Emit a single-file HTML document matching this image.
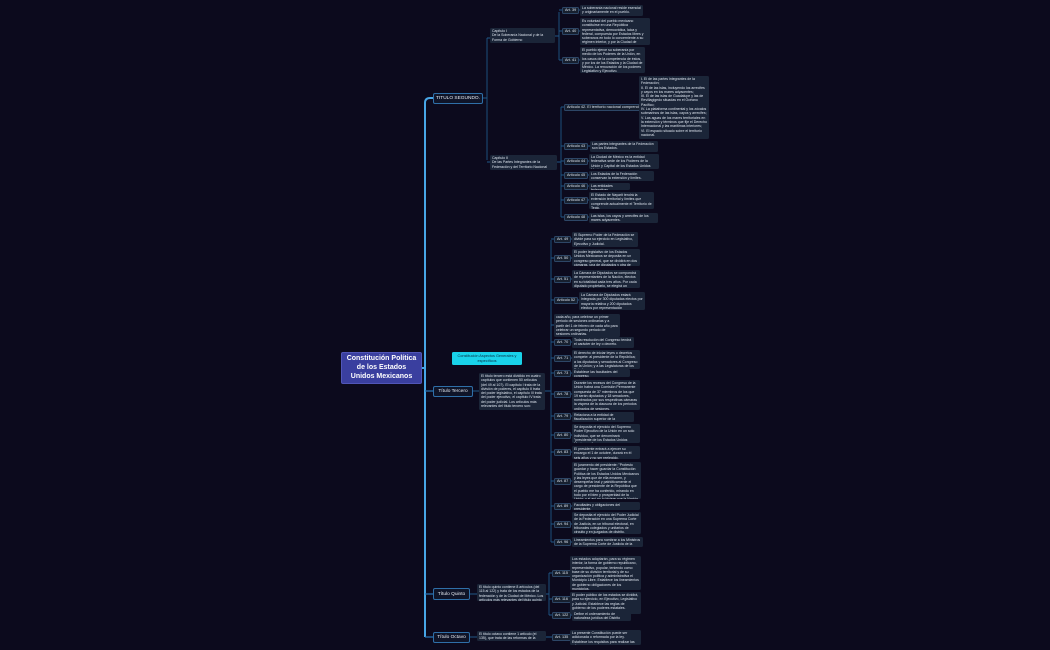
<!DOCTYPE html>
<html><head><meta charset="utf-8">
<style>
html,body{margin:0;padding:0;background:#0c0a1d;width:1050px;height:650px;overflow:hidden;font-family:"Liberation Sans",sans-serif;}
.n{position:absolute;background:#1b2538;color:#dde4ee;font-size:3.5px;line-height:4.3px;padding:1px 2px;box-sizing:border-box;border-radius:1.5px;overflow:hidden;}
.l{position:absolute;background:#17202f;color:#dde4ee;font-size:3.8px;line-height:5.6px;padding:0 2px;border:0.6px solid #2d4666;border-radius:1.5px;white-space:nowrap;height:7px;box-sizing:border-box;}
.t{position:absolute;background:#0f1428;color:#e8ecf3;font-size:4.8px;white-space:nowrap;border:1px solid #2f6fa8;border-radius:2px;box-sizing:border-box;display:flex;align-items:center;justify-content:center;}
</style></head><body>
<svg width="1050" height="650" style="position:absolute;left:0;top:0" fill="none">
<g stroke="#48a6e6" stroke-width="2">
<path d="M425 637 L425 103 Q425 98 430 98 L433 98"/>
<path d="M421 368 L425 368"/>
</g>
<g stroke="#2a77b8" stroke-width="1.2">
<path d="M425 391 L433 391"/><path d="M425 594 L433 594"/><path d="M425 637 L433 637"/>
</g>
<g stroke="#1f5888" stroke-width="0.9">
<path d="M483 98 L487 98 M487 38 L487 160 M487 38 L490 38 M487 162 L490 162"/>
<path d="M555 36 L559 36 M559 12 L559 60 M559 10 L562 10 M559 31 L562 31 M559 60 L562 60 M575 10 L580 10 M575 31 L580 31 M575 60 L580 60"/>
<path d="M557 162 L561 162 M561 107 L561 217 M561 107 L564 107 M561 146 L564 146 M561 161 L564 161 M561 175 L564 175 M561 186 L564 186 M561 200 L564 200 M561 217 L564 217 M633 107 L639 107 M583 146 L590 146 M583 161 L589 161 M583 175 L589 175 M583 186 L589 186 M583 200 L589 200 M583 217 L589 217"/>
<path d="M473 391 L479 391 M545 391 L551 391 M551 240 L551 542"/>
<path d="M551 239 L554 239 M551 258 L554 258 M551 279 L554 279 M551 300 L554 300 M551 325 L554 325 M551 342 L554 342 M551 358 L554 358 M551 373 L554 373 M551 394 L554 394 M551 416 L554 416 M551 435 L554 435 M551 452 L554 452 M551 481 L554 481 M551 506 L554 506 M551 524 L554 524 M551 542 L554 542"/>
<path d="M568 239 L572 239 M568 258 L572 258 M568 279 L572 279 M573 300 L579 300 M568 342 L572 342 M568 358 L572 358 M568 373 L572 373 M568 394 L572 394 M568 416 L572 416 M568 435 L572 435 M568 452 L572 452 M568 481 L572 481 M568 506 L572 506 M568 524 L572 524 M568 542 L572 542"/>
<path d="M470 594 L477 594 M546 594 L549 594 M549 573 L549 615 M549 573 L552 573 M549 599 L552 599 M549 615 L552 615 M566 573 L570 573 M566 599 L570 599 M566 615 L572 615"/>
<path d="M470 637 L477 637 M546 637 L552 637 M566 637 L570 637"/>
</g>
</svg>

<div class="n" style="left:341px;top:352px;width:81px;height:32px;background:#3a3f9f;border:1px solid #5156b8;border-radius:2px;font-size:7px;line-height:8.8px;font-weight:bold;text-align:center;padding:2px 3px;color:#fff">Constitución Política de los Estados Unidos Mexicanos</div>
<div class="n" style="left:452px;top:352px;width:70px;height:13px;background:#19d3ea;color:#0a2a40;font-size:3.8px;line-height:4.6px;text-align:center;padding:2px 3px">Constitución Aspectos Generales y específicos</div>

<div class="t" style="left:433px;top:93px;width:50px;height:11px">TITULO SEGUNDO.</div>
<div class="t" style="left:433px;top:386px;width:40px;height:11px">Título Tercero</div>
<div class="t" style="left:433px;top:588px;width:37px;height:12px">Título Quinto</div>
<div class="t" style="left:433px;top:632px;width:37px;height:11px">Título Octavo</div>

<div class="n" style="left:490px;top:28px;width:65px;height:15px">Capítulo I<br>De la Soberanía Nacional y de la Forma de Gobierno</div>
<div class="n" style="left:490px;top:155px;width:67px;height:15px">Capítulo II<br>De las Partes Integrantes de la Federación y del Territorio Nacional</div>

<div class="l" style="left:562px;top:7px">Art. 39</div>
<div class="l" style="left:562px;top:28px">Art. 40</div>
<div class="l" style="left:562px;top:57px">Art. 41</div>
<div class="n" style="left:580px;top:5px;width:63px;height:11px">La soberanía nacional reside esencial y originariamente en el pueblo.</div>
<div class="n" style="left:580px;top:18px;width:70px;height:27px">Es voluntad del pueblo mexicano constituirse en una República representativa, democrática, laica y federal, compuesta por Estados libres y soberanos en todo lo concerniente a su régimen interior, y por la Ciudad de México, unidos en una federación.</div>
<div class="n" style="left:580px;top:47px;width:65px;height:26px">El pueblo ejerce su soberanía por medio de los Poderes de la Unión, en los casos de la competencia de éstos, y por los de los Estados y la Ciudad de México. La renovación de los poderes Legislativo y Ejecutivo.</div>

<div class="l" style="left:564px;top:104px">Artículo 42. El territorio nacional comprende:</div>
<div class="n" style="left:639px;top:76px;width:70px;height:63px">I. El de las partes integrantes de la Federación;<br>II. El de las islas, incluyendo los arrecifes y cayos en los mares adyacentes;<br>III. El de las islas de Guadalupe y las de Revillagigedo situadas en el Océano Pacífico;<br>IV. La plataforma continental y los zócalos submarinos de las islas, cayos y arrecifes;<br>V. Las aguas de los mares territoriales en la extensión y términos que fije el Derecho Internacional y las marítimas interiores;<br>VI. El espacio situado sobre el territorio nacional.</div>
<div class="l" style="left:564px;top:143px">Artículo 43</div>
<div class="l" style="left:564px;top:158px">Artículo 44</div>
<div class="l" style="left:564px;top:172px">Artículo 45</div>
<div class="l" style="left:564px;top:183px">Artículo 46</div>
<div class="l" style="left:564px;top:197px">Artículo 47</div>
<div class="l" style="left:564px;top:214px">Artículo 48</div>
<div class="n" style="left:590px;top:141px;width:68px;height:11px">Las partes integrantes de la Federación son los Estados.</div>
<div class="n" style="left:589px;top:154px;width:70px;height:15px">La Ciudad de México es la entidad federativa sede de los Poderes de la Unión y Capital de los Estados Unidos Mexicanos.</div>
<div class="n" style="left:589px;top:171px;width:65px;height:10px">Los Estados de la Federación conservan la extensión y límites.</div>
<div class="n" style="left:589px;top:183px;width:41px;height:7px">Las entidades federativas.</div>
<div class="n" style="left:589px;top:192px;width:65px;height:17px">El Estado de Nayarit tendrá la extensión territorial y límites que comprende actualmente el Territorio de Tepic.</div>
<div class="n" style="left:589px;top:213px;width:69px;height:10px">Las islas, los cayos y arrecifes de los mares adyacentes.</div>

<div class="n" style="left:479px;top:373px;width:66px;height:37px">El título tercero está dividido en cuatro capítulos que contienen 50 artículos (del 49 al 107). El capítulo I trata de la división de poderes, el capítulo II trata del poder legislativo, el capítulo III trata del poder ejecutivo, el capítulo IV trata del poder judicial. Los artículos más relevantes del título tercero son:</div>

<div class="l" style="left:554px;top:236px">Art. 49</div>
<div class="l" style="left:554px;top:255px">Art. 50</div>
<div class="l" style="left:554px;top:276px">Art. 51</div>
<div class="l" style="left:554px;top:297px">Artículo 52</div>
<div class="l" style="left:554px;top:339px">Art. 70</div>
<div class="l" style="left:554px;top:355px">Art. 71</div>
<div class="l" style="left:554px;top:370px">Art. 73</div>
<div class="l" style="left:554px;top:391px">Art. 78</div>
<div class="l" style="left:554px;top:413px">Art. 79</div>
<div class="l" style="left:554px;top:432px">Art. 80</div>
<div class="l" style="left:554px;top:449px">Art. 83</div>
<div class="l" style="left:554px;top:478px">Art. 87</div>
<div class="l" style="left:554px;top:503px">Art. 89</div>
<div class="l" style="left:554px;top:521px">Art. 94</div>
<div class="l" style="left:554px;top:539px">Art. 96</div>

<div class="n" style="left:572px;top:232px;width:66px;height:15px">El Supremo Poder de la Federación se divide para su ejercicio en Legislativo, Ejecutivo y Judicial.</div>
<div class="n" style="left:572px;top:249px;width:68px;height:17px">El poder legislativo de los Estados Unidos Mexicanos se deposita en un congreso general, que se dividirá en dos cámaras, una de diputados y otra de senadores.</div>
<div class="n" style="left:572px;top:270px;width:68px;height:18px">La Cámara de Diputados se compondrá de representantes de la Nación, electos en su totalidad cada tres años. Por cada diputado propietario, se elegirá un suplente.</div>
<div class="n" style="left:579px;top:292px;width:66px;height:18px">La Cámara de Diputados estará integrada por 300 diputadas electos por mayoría relativa y 200 diputados electos por representación proporcional.</div>
<div class="n" style="left:554px;top:314px;width:66px;height:23px">cada año, para celebrar un primer periodo de sesiones ordinarias y a partir del 1 de febrero de cada año para celebrar un segundo periodo de sesiones ordinarias.</div>
<div class="n" style="left:572px;top:337px;width:62px;height:11px">Toda resolución del Congreso tendrá el carácter de ley o decreto.</div>
<div class="n" style="left:572px;top:350px;width:68px;height:19px">El derecho de iniciar leyes o decretos compete: al presidente de la República; a los diputados y senadores al Congreso de la Unión; y a las Legislaturas de los Estados.</div>
<div class="n" style="left:572px;top:369px;width:58px;height:8px">Establece las facultades del congreso.</div>
<div class="n" style="left:572px;top:380px;width:68px;height:30px">Durante los recesos del Congreso de la Unión habrá una Comisión Permanente compuesta de 37 miembros de los que 19 serán diputados y 18 senadores, nombrados por sus respectivas cámaras la víspera de la clausura de los periodos ordinarios de sesiones.</div>
<div class="n" style="left:572px;top:412px;width:62px;height:10px">Relaciona a la entidad de fiscalización superior de la federación.</div>
<div class="n" style="left:572px;top:424px;width:68px;height:19px">Se deposita el ejercicio del Supremo Poder Ejecutivo de la Unión en un solo individuo, que se denominará "presidente de los Estados Unidos Mexicanos."</div>
<div class="n" style="left:572px;top:446px;width:68px;height:13px">El presidente entrará a ejercer su encargo el 1 de octubre, durará en él seis años y no ser reelegido.</div>
<div class="n" style="left:572px;top:462px;width:69px;height:37px">El juramento del presidente: "Protesto guardar y hacer guardar la Constitución Política de los Estados Unidos Mexicanos y las leyes que de ella emanen, y desempeñar leal y patrióticamente el cargo de presidente de la República que el pueblo me ha conferido, mirando en todo por el bien y prosperidad de la Unión; y si así no lo hiciere que la Nación me lo demande."</div>
<div class="n" style="left:572px;top:502px;width:68px;height:8px">Facultades y obligaciones del presidente.</div>
<div class="n" style="left:572px;top:512px;width:69px;height:22px">Se deposita el ejercicio del Poder Judicial de la Federación en una Suprema Corte de Justicia, en un tribunal electoral, en tribunales colegiados y unitarios de circuito y en juzgados de distrito.</div>
<div class="n" style="left:572px;top:537px;width:71px;height:10px">Lineamientos para nombrar a los Ministros de la Suprema Corte de Justicia de la Nación.</div>

<div class="n" style="left:477px;top:584px;width:69px;height:17px">El título quinto contiene 8 artículos (del 115 al 122) y trata de los estados de la federación y de la Ciudad de México. Los artículos más relevantes del título quinto son:</div>
<div class="l" style="left:552px;top:570px">Art. 115</div>
<div class="l" style="left:552px;top:596px">Art. 116</div>
<div class="l" style="left:552px;top:612px">Art. 122</div>
<div class="n" style="left:570px;top:556px;width:71px;height:34px">Los estados adoptarán, para su régimen interior, la forma de gobierno republicano, representativo, popular, teniendo como base de su división territorial y de su organización política y administrativa el Municipio Libre. Establece los lineamientos de gobierno obligaciones de los municipios.</div>
<div class="n" style="left:570px;top:592px;width:71px;height:22px">El poder público de los estados se dividirá, para su ejercicio, en Ejecutivo, Legislativo y Judicial. Establece las reglas de gobierno de los poderes estatales.</div>
<div class="n" style="left:572px;top:611px;width:59px;height:10px">Define el ordenamiento de naturaleza jurídica del Distrito Federal.</div>

<div class="n" style="left:477px;top:631px;width:69px;height:10px">El título octavo contiene 1 artículo (el 135), que trata de las reformas de la Constitución.</div>
<div class="l" style="left:552px;top:634px">Art. 135</div>
<div class="n" style="left:570px;top:630px;width:71px;height:15px">La presente Constitución puede ser adicionada o reformada por la ley. Establece los requisitos para realizar las reformas.</div>
</body></html>
